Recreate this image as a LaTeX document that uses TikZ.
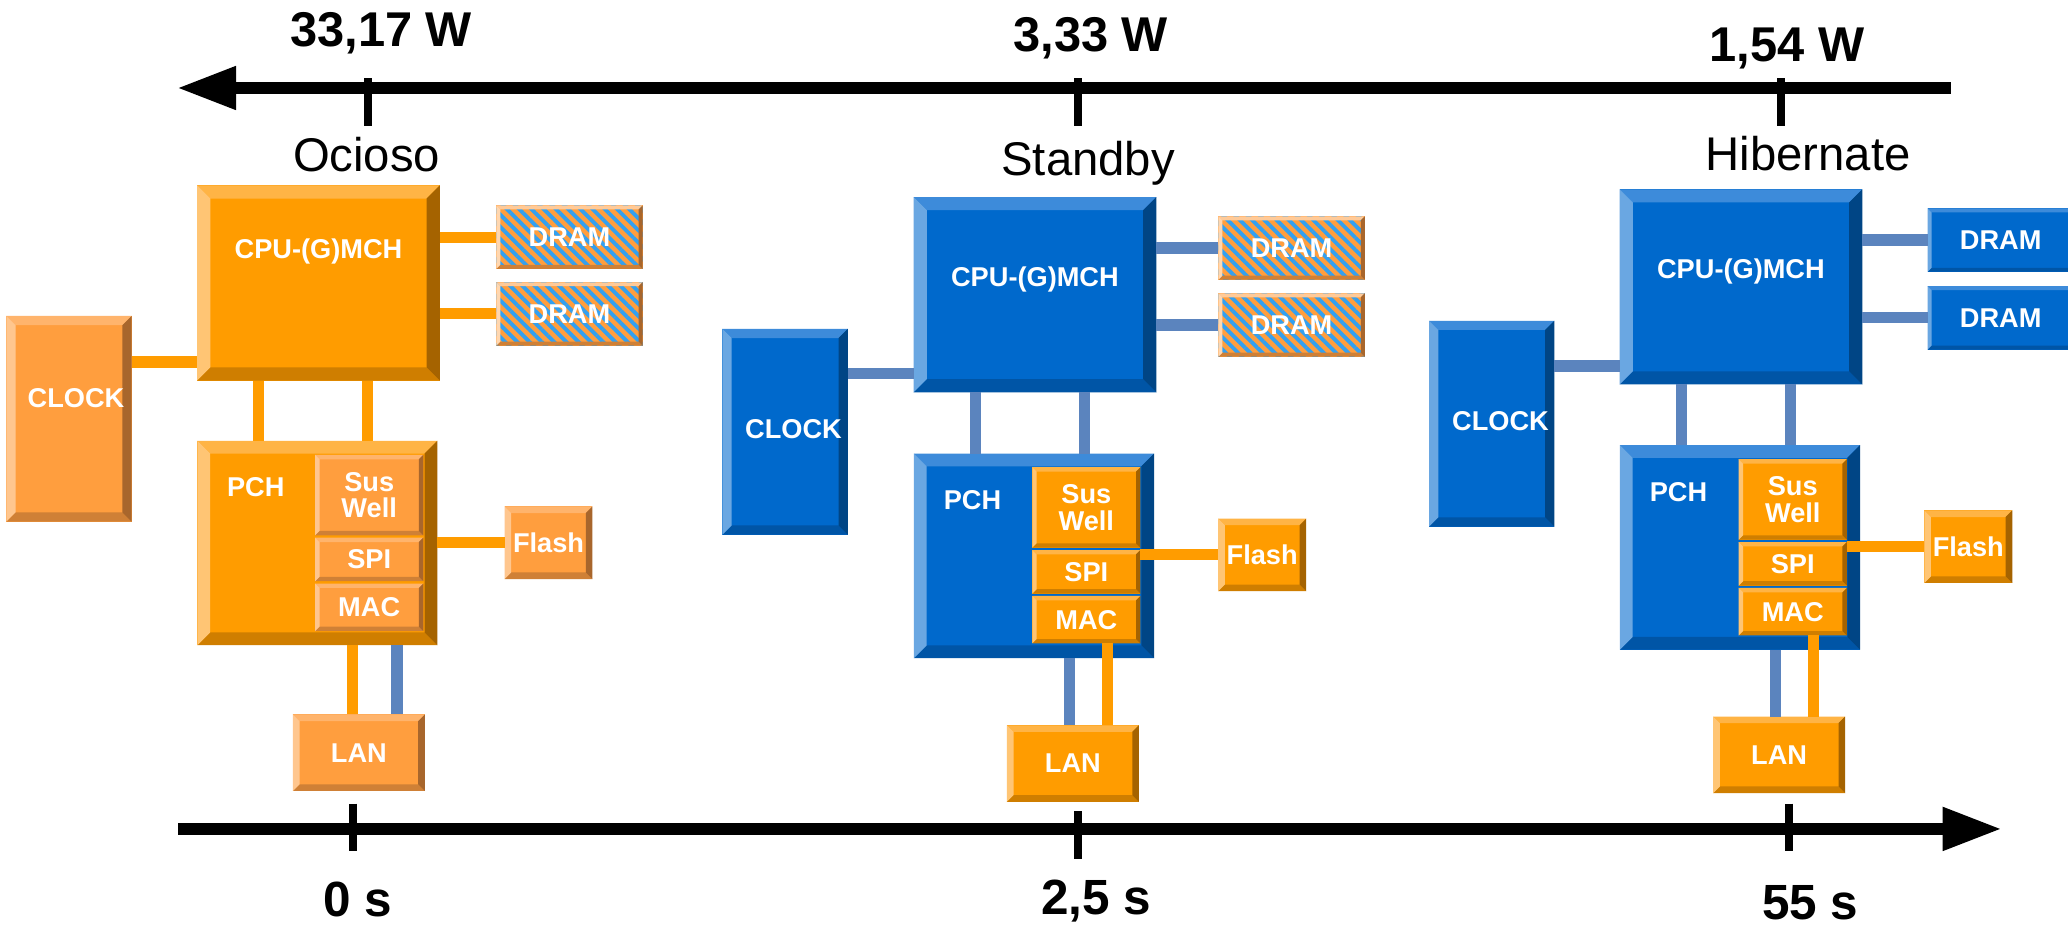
\documentclass[tikz,border=0pt]{standalone}
\usepackage{fontspec}
\setmainfont{Liberation Sans}
\usetikzlibrary{positioning, arrows.meta, patterns.meta}

\definecolor{orFace}{HTML}{FF9C00}
\definecolor{orTop}{HTML}{FFB445}
\definecolor{orLeft}{HTML}{FFC574}
\definecolor{orRight}{HTML}{A56300}
\definecolor{orBottom}{HTML}{CF7E00}
\definecolor{ltFace}{HTML}{FF9E3E}
\definecolor{ltTop}{HTML}{FFB46C}
\definecolor{ltLeft}{HTML}{FFC68E}
\definecolor{ltRight}{HTML}{A8662C}
\definecolor{ltBottom}{HTML}{CF8036}
\definecolor{blFace}{HTML}{0069CC}
\definecolor{blTop}{HTML}{3D8BDA}
\definecolor{blLeft}{HTML}{6AA7E2}
\definecolor{blRight}{HTML}{004585}
\definecolor{blBottom}{HTML}{0055A6}
\definecolor{wireBlue}{HTML}{5B84BE}
\definecolor{wireOrange}{HTML}{FF9C00}
\definecolor{stripeBlue}{HTML}{33A0F0}

\newcommand{\chipfont}{\bfseries\fontsize{8.8}{8.6}\selectfont}
\def\bevw{1mm}
% four bevel faces of a chip: top, bottom, left, right
\newcommand{\chipbevel}[4]{%
	\fill[#1] (path picture bounding box.north west) -- (path picture bounding box.north east)
		-- ([xshift=-\bevw,yshift=-\bevw]path picture bounding box.north east)
		-- ([xshift=\bevw,yshift=-\bevw]path picture bounding box.north west) -- cycle;
	\fill[#2] (path picture bounding box.south west) -- (path picture bounding box.south east)
		-- ([xshift=-\bevw,yshift=\bevw]path picture bounding box.south east)
		-- ([xshift=\bevw,yshift=\bevw]path picture bounding box.south west) -- cycle;
	\fill[#3] (path picture bounding box.north west) -- (path picture bounding box.south west)
		-- ([xshift=\bevw,yshift=\bevw]path picture bounding box.south west)
		-- ([xshift=\bevw,yshift=-\bevw]path picture bounding box.north west) -- cycle;
	\fill[#4] (path picture bounding box.north east) -- (path picture bounding box.south east)
		-- ([xshift=-\bevw,yshift=\bevw]path picture bounding box.south east)
		-- ([xshift=-\bevw,yshift=-\bevw]path picture bounding box.north east) -- cycle;
}

\tikzset{
	bevel width/.code={\def\bevw{#1}}, % size of the 3D edge
	chiptext/.style={text=white, font=\chipfont, align=center, inner sep=0pt}, % white bold labels
	box/.style={rectangle, inner sep=0pt, outer sep=0pt, chiptext},
	orbox/.style={box, fill=orFace, path picture={\chipbevel{orTop}{orBottom}{orLeft}{orRight}}}, % powered, orange
	ltbox/.style={box, fill=ltFace, path picture={\chipbevel{ltTop}{ltBottom}{ltLeft}{ltRight}}}, % powered, light orange
	blbox/.style={box, fill=blFace, path picture={\chipbevel{blTop}{blBottom}{blLeft}{blRight}}}, % off, blue
	stbox/.style={box, fill=ltFace, path picture={% self refresh, striped
		\fill[pattern={Lines[angle=-45, distance=2.8pt, line width=1.25pt]}, pattern color=stripeBlue]
			(path picture bounding box.south west) rectangle (path picture bounding box.north east);
		\chipbevel{ltTop!70}{ltBottom}{ltLeft!70}{ltRight}}},
	cpu/.style={minimum width=27.6mm, minimum height=22.2mm, bevel width=1.5mm},
	pch/.style={minimum width=27.3mm, minimum height=23.25mm, bevel width=1.45mm},
	clock/.style={minimum width=14.25mm, minimum height=23.4mm, bevel width=1.05mm},
	dram/.style={minimum width=16.65mm, minimum height=7.2mm, bevel width=0.45mm},
	flash/.style={minimum width=10mm, minimum height=8.25mm, bevel width=0.75mm},
	lan/.style={minimum width=15mm, minimum height=8.7mm, bevel width=0.75mm},
	sus/.style={minimum width=12.3mm, minimum height=9.15mm, bevel width=0.5mm},
	spi/.style={minimum width=12.3mm, minimum height=4.95mm, bevel width=0.5mm},
	mac/.style={minimum width=12.3mm, minimum height=5.4mm, bevel width=0.5mm},
	wireO/.style={draw=wireOrange, line width=3.6pt}, % powered link
	wireB/.style={draw=wireBlue, line width=3.6pt}, % idle link
	axis/.style={line width=4pt, -{Triangle[length=6.75mm, width=4.6mm]}},
	tick/.style={line width=2.4pt},
	watt/.style={font=\bfseries\fontsize{15.8}{18}\selectfont, anchor=base},
	secs/.style={font=\bfseries\fontsize{16}{18}\selectfont, anchor=base},
	mode/.style={font=\fontsize{15.3}{18}\selectfont, anchor=base},
}

\begin{document}
\begin{tikzpicture}[x=0.15mm, y=-0.15mm]
	\fill[white] (0,0) rectangle (1568,702);
	\useasboundingbox (0,0) rectangle (1568,702);

	% power axis
	\coordinate (pwrEnd) at (1479,66.7);
	\coordinate (pwrTip) at (134,66.7);
	\draw[axis] (pwrEnd) -- (pwrTip);
	\coordinate (tkO) at (279,59.4);
	\coordinate (tkS) at (817.3,59.4);
	\coordinate (tkH) at (1350.3,59.4);
	\draw[tick] (tkO) -- ++(0,36.1);
	\draw[tick] (tkS) -- ++(0,36.1);
	\draw[tick] (tkH) -- ++(0,36.1);
	\node[watt] (pwrO) at (289,35.4) {33,17 W};
	\node[watt] (pwrS) at (827,39.2) {3,33 W};
	\node[watt] (pwrH) at (1355,46.7) {1,54 W};
	\node[mode] (modeO) at (278,129.8) {Ocioso};
	\node[mode] (modeS) at (825,133) {Standby};
	\node[mode] (modeH) at (1371,129.3) {Hibernate};

	% time axis
	\coordinate (tmStart) at (135,628.5);
	\coordinate (tmTip) at (1518,628.5);
	\draw[axis] (tmStart) -- (tmTip);
	\coordinate (tk0) at (267.5,609.4);
	\coordinate (tk25) at (817.5,615);
	\coordinate (tk55) at (1356.3,609.4);
	\draw[tick] (tk0) -- ++(0,36.2);
	\draw[tick] (tk25) -- ++(0,36.2);
	\draw[tick] (tk55) -- ++(0,36.2);
	\node[secs] (secO) at (271,694.8) {0 s};
	\node[secs] (secS) at (831,693.6) {2,5 s};
	\node[secs] (secH) at (1372.6,697.5) {55 s};

	% Ocioso
	\node[ltbox, clock, label={[chiptext, xshift=0.8mm, yshift=2.3mm]center:CLOCK}] (clockA) at (52.3,317.5) {};
	\node[orbox, cpu, label={[chiptext, yshift=3.55mm]center:CPU-(G)MCH}] (cpuA) at (241.5,214.5) {};
	\node[stbox, dram] (dramA1) at (431.8,179.8) {DRAM};
	\node[stbox, dram] (dramA2) at (431.8,238) {DRAM};
	\node[orbox, pch, label={[chiptext, xshift=-7mm, yshift=6.3mm]center:PCH}] (pchA) at (240.6,411.7) {};
	\node[ltbox, sus, anchor=north east] (susA) at ([xshift=-1.6mm, yshift=-1.6mm]pchA.north east) {Sus\\Well};
	\node[ltbox, spi, below=0.27mm of susA] (spiA) {SPI};
	\node[ltbox, mac, below=0.27mm of spiA] (macA) {MAC};
	\node[ltbox, flash] (flashA) at (415.9,411.5) {Flash};
	\node[ltbox, lan] (lanA) at (272.1,570.7) {LAN};

	\coordinate (ckA) at ([yshift=2.1mm]cpuA.south west);
	\draw[wireO] (ckA -| clockA.east) -- (ckA);
	\draw[wireO] (dramA1.west -| cpuA.east) -- (dramA1.west);
	\draw[wireO] (dramA2.west -| cpuA.east) -- (dramA2.west);
	\coordinate (vA1) at ([xshift=-6.8mm]cpuA.south);
	\coordinate (vA2) at ([xshift=5.6mm]cpuA.south);
	\draw[wireO] (vA1) -- (vA1 |- pchA.north);
	\draw[wireO] (vA2) -- (vA2 |- pchA.north);
	\draw[wireO] (flashA.west -| pchA.east) -- (flashA.west);
	\coordinate (lA1) at ([xshift=-0.73mm]lanA.north);
	\coordinate (lA2) at ([xshift=4.33mm]lanA.north);
	\draw[wireO] (lA1 |- pchA.south) -- (lA1);
	\draw[wireB] (lA2 |- pchA.south) -- (lA2);

	% Standby
	\node[blbox, clock, label={[chiptext, xshift=0.95mm, yshift=0.35mm]center:CLOCK}] (clockB) at (595.3,327.4) {};
	\node[blbox, cpu, label={[chiptext, yshift=1.7mm]center:CPU-(G)MCH}] (cpuB) at (784.7,223.4) {};
	\node[stbox, dram] (dramB1) at (979.3,188) {DRAM};
	\node[stbox, dram] (dramB2) at (979.3,246.4) {DRAM};
	\node[blbox, pch, label={[chiptext, xshift=-7mm, yshift=6.3mm]center:PCH}] (pchB) at (784,421.4) {};
	\node[orbox, sus, anchor=north east] (susB) at ([xshift=-1.55mm, yshift=-1.55mm]pchB.north east) {Sus\\Well};
	\node[orbox, spi, below=0.27mm of susB] (spiB) {SPI};
	\node[orbox, mac, below=0.27mm of spiB] (macB) {MAC};
	\node[orbox, flash] (flashB) at (957,420.7) {Flash};
	\node[orbox, lan] (lanB) at (813.5,578.9) {LAN};

	\coordinate (ckB) at ([yshift=2.1mm]cpuB.south west);
	\draw[wireB] (ckB -| clockB.east) -- (ckB);
	\draw[wireB] (dramB1.west -| cpuB.east) -- (dramB1.west);
	\draw[wireB] (dramB2.west -| cpuB.east) -- (dramB2.west);
	\coordinate (vB1) at ([xshift=-6.8mm]cpuB.south);
	\coordinate (vB2) at ([xshift=5.6mm]cpuB.south);
	\draw[wireB] (vB1) -- (vB1 |- pchB.north);
	\draw[wireB] (vB2) -- (vB2 |- pchB.north);
	\draw[wireO] (flashB.west -| spiB.east) -- (flashB.west);
	\coordinate (lB1) at ([xshift=-0.4mm]lanB.north);
	\coordinate (lB2) at ([xshift=3.9mm]lanB.north);
	\draw[wireB] (lB1 |- pchB.south) -- (lB1);
	\draw[wireO] (lB2 |- macB.south) -- (lB2);

	% Hibernate
	\node[blbox, clock, label={[chiptext, xshift=1mm, yshift=0.3mm]center:CLOCK}] (clockC) at (1131,321.2) {};
	\node[blbox, cpu, label={[chiptext, yshift=1.8mm]center:CPU-(G)MCH}] (cpuC) at (1320,217.5) {};
	\node[blbox, dram] (dramC1) at (1517,182) {DRAM};
	\node[blbox, dram] (dramC2) at (1517,241) {DRAM};
	\node[blbox, pch, label={[chiptext, xshift=-7mm, yshift=6.3mm]center:PCH}] (pchC) at (1319.3,415) {};
	\node[orbox, sus, anchor=north east] (susC) at ([xshift=-1.5mm, yshift=-1.6mm]pchC.north east) {Sus\\Well};
	\node[orbox, spi, below=0.27mm of susC] (spiC) {SPI};
	\node[orbox, mac, below=0.27mm of spiC] (macC) {MAC};
	\node[orbox, flash] (flashC) at (1492.4,414.5) {Flash};
	\node[orbox, lan] (lanC) at (1349,572.3) {LAN};

	\coordinate (ckC) at ([yshift=2.1mm]cpuC.south west);
	\draw[wireB] (ckC -| clockC.east) -- (ckC);
	\draw[wireB] (dramC1.west -| cpuC.east) -- (dramC1.west);
	\draw[wireB] (dramC2.west -| cpuC.east) -- (dramC2.west);
	\coordinate (vC1) at ([xshift=-6.8mm]cpuC.south);
	\coordinate (vC2) at ([xshift=5.6mm]cpuC.south);
	\draw[wireB] (vC1) -- (vC1 |- pchC.north);
	\draw[wireB] (vC2) -- (vC2 |- pchC.north);
	\draw[wireO] (flashC.west -| spiC.east) -- (flashC.west);
	\coordinate (lC1) at ([xshift=-0.4mm]lanC.north);
	\coordinate (lC2) at ([xshift=3.9mm]lanC.north);
	\draw[wireB] (lC1 |- pchC.south) -- (lC1);
	\draw[wireO] (lC2 |- macC.south) -- (lC2);
\end{tikzpicture}
\end{document}
